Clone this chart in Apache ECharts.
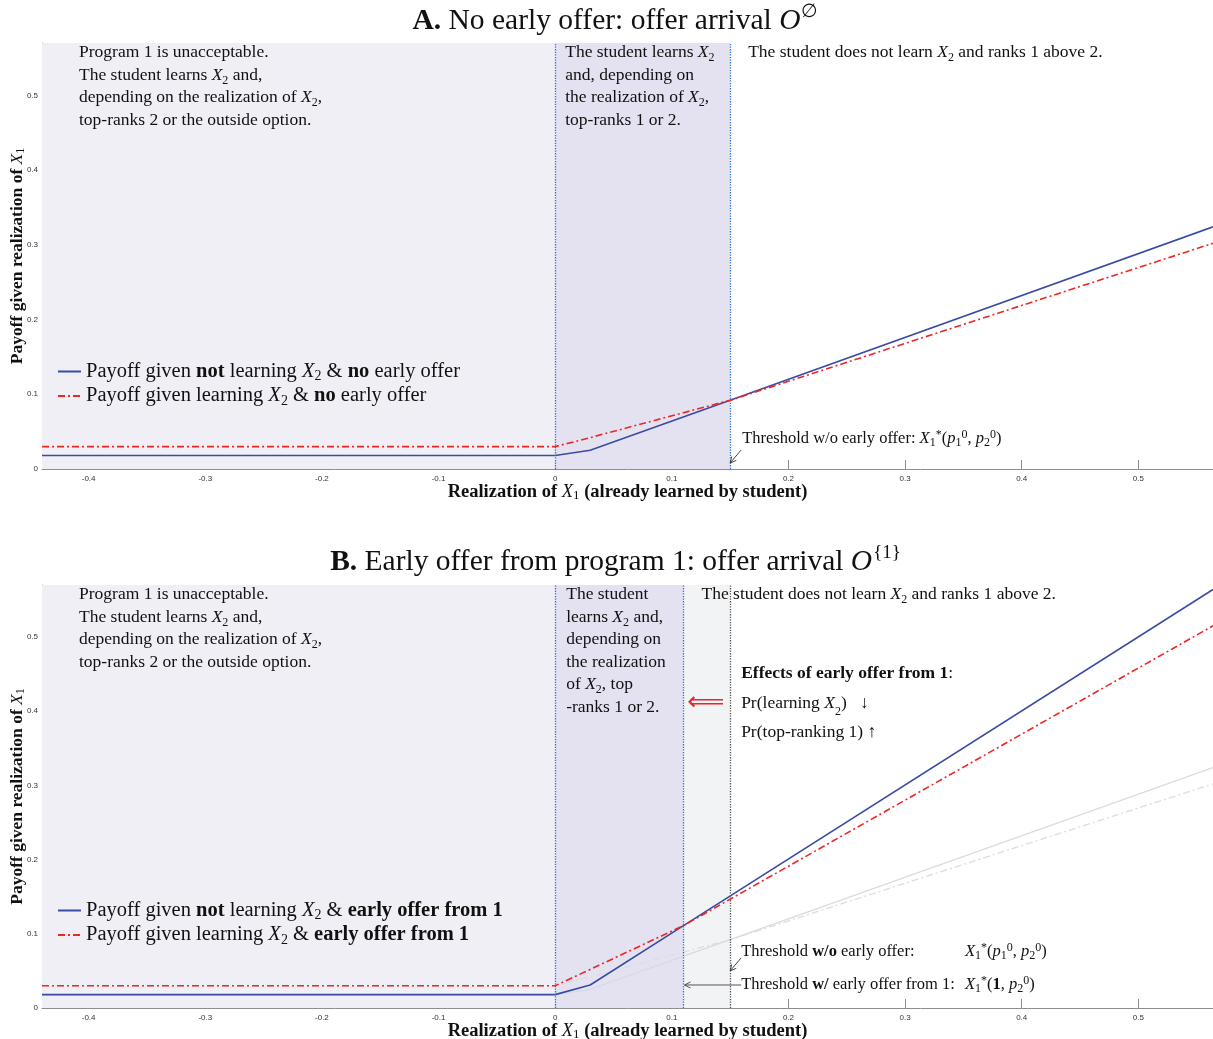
<!DOCTYPE html>
<html>
<head>
<meta charset="utf-8">
<script src="https://cdn.jsdelivr.net/npm/echarts@6/dist/echarts.min.js"></script>
<style>
  html, body { margin: 0; padding: 0; background: #fff; }
  #chart { width: 1213px; height: 1039px; }
</style>
</head>
<body>
<div id="chart"></div>
<script>
// ---- data: payoff as a function of the realization of X1 ----
// Panel A (no early offer)
const xNoOffer = [-0.44, 0, 0.03, 0.15, 0.564];
const payNotLearnNoOffer = [0.018, 0.018, 0.025, 0.092, 0.324];
const payLearnNoOffer = [0.03, 0.03, 0.042, 0.092, 0.302];
// Panel B (early offer from program 1)
const xEarly = [-0.44, 0, 0.03, 0.11, 0.564];
const payNotLearnEarly = [0.018, 0.018, 0.031, 0.111, 0.564];
const payLearnEarly = [0.03, 0.03, 0.052, 0.111, 0.515];
// thresholds X1*
const thresholdNoOffer = 0.15;
const thresholdEarly = 0.11;
// axes
const xRange = [-0.44, 0.564];
const yRange = [0, 0.57];
const xTicks = [-0.4, -0.3, -0.2, -0.1, 0, 0.1, 0.2, 0.3, 0.4, 0.5];
const yTicks = [0, 0.1, 0.2, 0.3, 0.4, 0.5];

const SERIF = '"Liberation Serif", "Times New Roman", "DejaVu Serif", serif';
const SANS = '"Liberation Sans", Arial, Helvetica, sans-serif';
const BLUE = '#3a4ba3', RED = '#ee2626', DOT = '#2c74d4';
const dashDot = [7, 3, 2, 3];
const BODY = 17.5, BODY_LH = 22.5;

// tiny markup -> ECharts rich text: *bold*, ~italic~, _c subscript, ^c superscript
function R(src) {
  let out = '', buf = '', bold = false, ital = false;
  const mode = () => bold ? 'b' : (ital ? 'i' : 'n');
  const flush = () => { if (buf) { out += '{' + mode() + '|' + buf + '}'; buf = ''; } };
  for (let k = 0; k < src.length; k++) {
    const c = src[k];
    if (c === '*') { flush(); bold = !bold; }
    else if (c === '~') { flush(); ital = !ital; }
    else if (c === '_' || c === '^') { flush(); const d = src[++k]; out += '{' + (c === '_' ? 's' : 'p') + '|' + d + '}'; }
    else if (c === '\n') { flush(); out += '\n'; }
    else buf += c;
  }
  flush();
  return out;
}
function richSet(fs, lh, boldBase) {
  const base = { fontFamily: SERIF, fontSize: fs, lineHeight: lh, color: '#111' };
  const small = Math.round(fs * 0.7);
  return {
    n: Object.assign({}, base, { fontWeight: boldBase ? 'bold' : 'normal' }),
    b: Object.assign({}, base, { fontWeight: 'bold' }),
    i: Object.assign({}, base, { fontStyle: 'italic' }),
    s: { fontFamily: SERIF, fontSize: small, lineHeight: Math.max(4, lh - 0.6 * fs), verticalAlign: 'bottom', color: '#111' },
    p: { fontFamily: SERIF, fontSize: small, lineHeight: Math.max(4, lh - 0.8 * fs), verticalAlign: 'top', color: '#111' }
  };
}
const pairs = (xs, ys) => xs.map((x, k) => [x, ys[k]]);
const fmtTick = v => String(+v.toFixed(1));

function xAxisFor(g) {
  return {
    type: 'value', gridIndex: g, min: xRange[0], max: xRange[1],
    name: R('Realization of ~X~_1 (already learned by student)'),
    nameLocation: 'middle', nameGap: 13.5, nameMoveOverlap: false,
    nameTextStyle: { rich: richSet(18.5, 20, true) },
    axisLine: { show: true, onZero: false, lineStyle: { color: '#8e8e8e', width: 1 } },
    axisTick: { show: true, inside: true, length: 9, customValues: xTicks, lineStyle: { color: '#8e8e8e' } },
    axisLabel: { customValues: xTicks, fontSize: 8, fontFamily: SANS, color: '#333', margin: 6, formatter: fmtTick },
    splitLine: { show: false }
  };
}
function yAxisFor(g) {
  return {
    type: 'value', gridIndex: g, min: yRange[0], max: yRange[1],
    name: R('Payoff given realization of ~X~_1'),
    nameLocation: 'middle', nameRotate: 90, nameGap: 15.5, nameMoveOverlap: false,
    nameTextStyle: { rich: richSet(17.5, 19, true) },
    axisLine: { show: true, onZero: false, lineStyle: { color: '#8e8e8e', width: 1 } },
    axisTick: { show: true, inside: true, length: 9, customValues: yTicks, lineStyle: { color: '#8e8e8e' } },
    axisLabel: { customValues: yTicks, fontSize: 8, fontFamily: SANS, color: '#333', margin: 4, formatter: fmtTick },
    splitLine: { show: false }
  };
}
function lineSeries(name, g, xs, ys, color, type, width, z) {
  return {
    type: 'line', name, xAxisIndex: g, yAxisIndex: g, data: pairs(xs, ys),
    symbol: 'none', showSymbol: false, silent: true, z,
    lineStyle: { color, type, width }, itemStyle: { color }
  };
}
function regions(g, bands, lines) {
  return {
    type: 'line', name: 'regions' + g, xAxisIndex: g, yAxisIndex: g, data: [], silent: true, z: 0,
    markArea: { silent: true, data: bands.map(b => [{ xAxis: b[0], itemStyle: { color: b[2] } }, { xAxis: b[1] }]) },
    markLine: {
      silent: true, symbol: ['none', 'none'], label: { show: false },
      lineStyle: { type: 'dotted', color: DOT, width: 1.3 },
      data: lines.map(l => ({ xAxis: l[0], lineStyle: { color: l[1], type: 'dotted', width: 1.3 } }))
    }
  };
}

const nameA1 = 'Payoff given *not* learning ~X~_2 & *no* early offer';
const nameA2 = 'Payoff given learning ~X~_2 & *no* early offer';
const nameB1 = 'Payoff given *not* learning ~X~_2 & *early offer from 1*';
const nameB2 = 'Payoff given learning ~X~_2 & *early offer from 1*';

const legendBase = {
  orient: 'vertical', left: 52, itemWidth: 23, itemHeight: 12, itemGap: 2,
  selectedMode: false, formatter: n => R(n),
  itemStyle: { opacity: 0 },
  textStyle: { fontFamily: SERIF, fontSize: 20.5, color: '#111', rich: richSet(20.5, 24) }
};

const option = {
  animation: false,
  backgroundColor: '#fff',
  grid: [
    { left: 42, top: 43, width: 1171, height: 426, containLabel: false, outerBoundsMode: 'none' },
    { left: 42, top: 585, width: 1171, height: 423, containLabel: false, outerBoundsMode: 'none' }
  ],
  xAxis: [xAxisFor(0), xAxisFor(1)],
  yAxis: [yAxisFor(0), yAxisFor(1)],
  legend: [
    Object.assign({}, legendBase, { top: 356, data: [nameA1, nameA2] }),
    Object.assign({}, legendBase, { top: 895, data: [nameB1, nameB2] })
  ],
  series: [
    regions(0, [[xRange[0], 0, '#f0eff6'], [0, thresholdNoOffer, '#e4e2f0']],
      [[0, DOT], [thresholdNoOffer, DOT]]),
    lineSeries(nameA1, 0, xNoOffer, payNotLearnNoOffer, BLUE, 'solid', 1.6, 4),
    lineSeries(nameA2, 0, xNoOffer, payLearnNoOffer, RED, dashDot, 1.6, 5),

    regions(1, [[xRange[0], 0, '#f0eff6'], [0, thresholdEarly, '#e4e2f0'], [thresholdEarly, thresholdNoOffer, '#f2f3f5']],
      [[0, DOT], [thresholdEarly, DOT], [thresholdNoOffer, '#555']]),
    lineSeries('no offer (not learning)', 1, xNoOffer, payNotLearnNoOffer, '#d9d9e3', 'solid', 1.3, 2),
    lineSeries('no offer (learning)', 1, xNoOffer, payLearnNoOffer, '#dddddd', dashDot, 1.3, 2),
    lineSeries(nameB1, 1, xEarly, payNotLearnEarly, BLUE, 'solid', 1.6, 4),
    lineSeries(nameB2, 1, xEarly, payLearnEarly, RED, dashDot, 1.6, 5)
  ]
};

const chart = echarts.init(document.getElementById('chart'), null, { renderer: 'canvas' });
chart.setOption(option);

// ---- annotations positioned through the axes ----
const P = (g, x, y) => chart.convertToPixel({ gridIndex: g }, [x, y]);
const measure = (markup, fs, lh) =>
  new echarts.graphic.Text({ style: { text: R(markup), rich: richSet(fs, lh) } }).getBoundingRect().width;
const gfx = [];
function txt(x, y, markup, fs, lh, extra) {
  gfx.push({
    type: 'text', x, y, silent: true, z: 50,
    style: Object.assign({
      text: R(markup), rich: richSet(fs, lh), fill: '#111',
      textAlign: 'left', textVerticalAlign: 'top', verticalAlign: 'top'
    }, extra || {})
  });
}
function arrow(s, t, color) {
  const dx = t[0] - s[0], dy = t[1] - s[1], L = Math.hypot(dx, dy), ux = dx / L, uy = dy / L;
  const h = 6, w = 3;
  gfx.push({ type: 'line', silent: true, z: 50, shape: { x1: s[0], y1: s[1], x2: t[0], y2: t[1] }, style: { stroke: color, lineWidth: 0.9 } });
  gfx.push({
    type: 'polyline', silent: true, z: 50,
    shape: { points: [[t[0] - h * ux - w * uy, t[1] - h * uy + w * ux], [t[0], t[1]], [t[0] - h * ux + w * uy, t[1] - h * uy - w * ux]] },
    style: { stroke: color, lineWidth: 0.9, fill: null }
  });
}
function title(markup, sup, cx, cy) {
  const fs = 29.5, lh = 34;
  const w = measure(markup, fs, lh);
  const supFont = '19px ' + SERIF;
  const supW = new echarts.graphic.Text({ style: { text: sup, font: supFont } }).getBoundingRect().width;
  const x0 = cx - (w + supW) / 2;
  txt(x0, cy, markup, fs, lh, { textVerticalAlign: 'middle', verticalAlign: 'middle' });
  gfx.push({
    type: 'text', x: x0 + w + 1, y: cy - 9, silent: true, z: 50,
    style: { text: sup, font: supFont, fill: '#111', textAlign: 'left', textVerticalAlign: 'middle', verticalAlign: 'middle' }
  });
}

// titles
title('*A.* No early offer: offer arrival ~O~', '\u2205', 615, 21);
title('*B.* Early offer from program 1: offer arrival ~O~', '{1}', 615, 562);

// Panel A region descriptions
const a0 = P(0, xRange[0], yRange[1]), aZero = P(0, 0, yRange[1]), aThr = P(0, thresholdNoOffer, yRange[1]);
txt(a0[0] + 37, a0[1] - 1.5,
  'Program 1 is unacceptable.\nThe student learns ~X~_2 and,\ndepending on the realization of ~X~_2,\ntop-ranks 2 or the outside option.', BODY, BODY_LH);
txt(aZero[0] + 10, aZero[1] - 1.5,
  'The student learns ~X~_2\nand, depending on\nthe realization of ~X~_2,\ntop-ranks 1 or 2.', BODY, BODY_LH);
txt(aThr[0] + 18, aThr[1] - 1.5, 'The student does not learn ~X~_2 and ranks 1 above 2.', BODY, BODY_LH);

// Panel A threshold label
const tA = P(0, thresholdNoOffer, 0.008);
arrow([tA[0] + 11, tA[1] - 13], tA, '#333');
txt(tA[0] + 12, tA[1] - 24, 'Threshold w/o early offer: ~X~_1^*(~p~_1^0, ~p~_2^0)', 16.5, 20,
  { textVerticalAlign: 'middle', verticalAlign: 'middle' });

// Panel B region descriptions
const b0 = P(1, xRange[0], yRange[1]), bZero = P(1, 0, yRange[1]), bThr = P(1, thresholdEarly, yRange[1]);
const bThrOld = P(1, thresholdNoOffer, yRange[1]);
txt(b0[0] + 37, b0[1] - 1.5,
  'Program 1 is unacceptable.\nThe student learns ~X~_2 and,\ndepending on the realization of ~X~_2,\ntop-ranks 2 or the outside option.', BODY, BODY_LH);
txt(bZero[0] + 11, bZero[1] - 1.5,
  'The student\nlearns ~X~_2 and,\ndepending on\nthe realization\nof ~X~_2, top\n-ranks 1 or 2.', BODY, BODY_LH);
txt(bThr[0] + 18, bThr[1] - 1.5, 'The student does not learn ~X~_2 and ranks 1 above 2.', BODY, BODY_LH);

// effects of the early offer
txt(bThrOld[0] + 11, bThrOld[1] + 74, '*Effects of early offer from 1*:\nPr(learning ~X~_2)   \u2193\nPr(top-ranking 1) \u2191', BODY, 29.5);
const arrMid = P(1, (thresholdEarly + thresholdNoOffer) / 2, 0.41);
gfx.push({
  type: 'text', x: arrMid[0] - 1, y: arrMid[1], silent: true, z: 50,
  style: { text: '\u27f8', font: '26px "DejaVu Sans", sans-serif', fill: '#e8262a', textAlign: 'center', textVerticalAlign: 'middle', verticalAlign: 'middle' }
});

// Panel B threshold labels
const tB1 = P(1, thresholdNoOffer, 0.05);
const tB2 = P(1, thresholdEarly, 0.031);
const lblX = tB1[0] + 11;
const prefix2 = 'Threshold *w/* early offer from 1: ';
const mathX = lblX + measure(prefix2, 16.5, 20) + 6;
arrow([lblX, tB1[1] - 13], tB1, '#333');
txt(lblX, tB1[1] - 19, 'Threshold *w/o* early offer:', 16.5, 20, { textVerticalAlign: 'middle', verticalAlign: 'middle' });
txt(mathX, tB1[1] - 19, '~X~_1^*(~p~_1^0, ~p~_2^0)', 16.5, 20, { textVerticalAlign: 'middle', verticalAlign: 'middle' });
arrow([lblX, tB2[1]], [tB2[0] + 1, tB2[1]], '#444');
txt(lblX, tB2[1], prefix2, 16.5, 20, { textVerticalAlign: 'middle', verticalAlign: 'middle' });
txt(mathX, tB2[1], '~X~_1^*(*1*, ~p~_2^0)', 16.5, 20, { textVerticalAlign: 'middle', verticalAlign: 'middle' });

chart.setOption({ graphic: { elements: gfx } });
</script>
</body>
</html>
